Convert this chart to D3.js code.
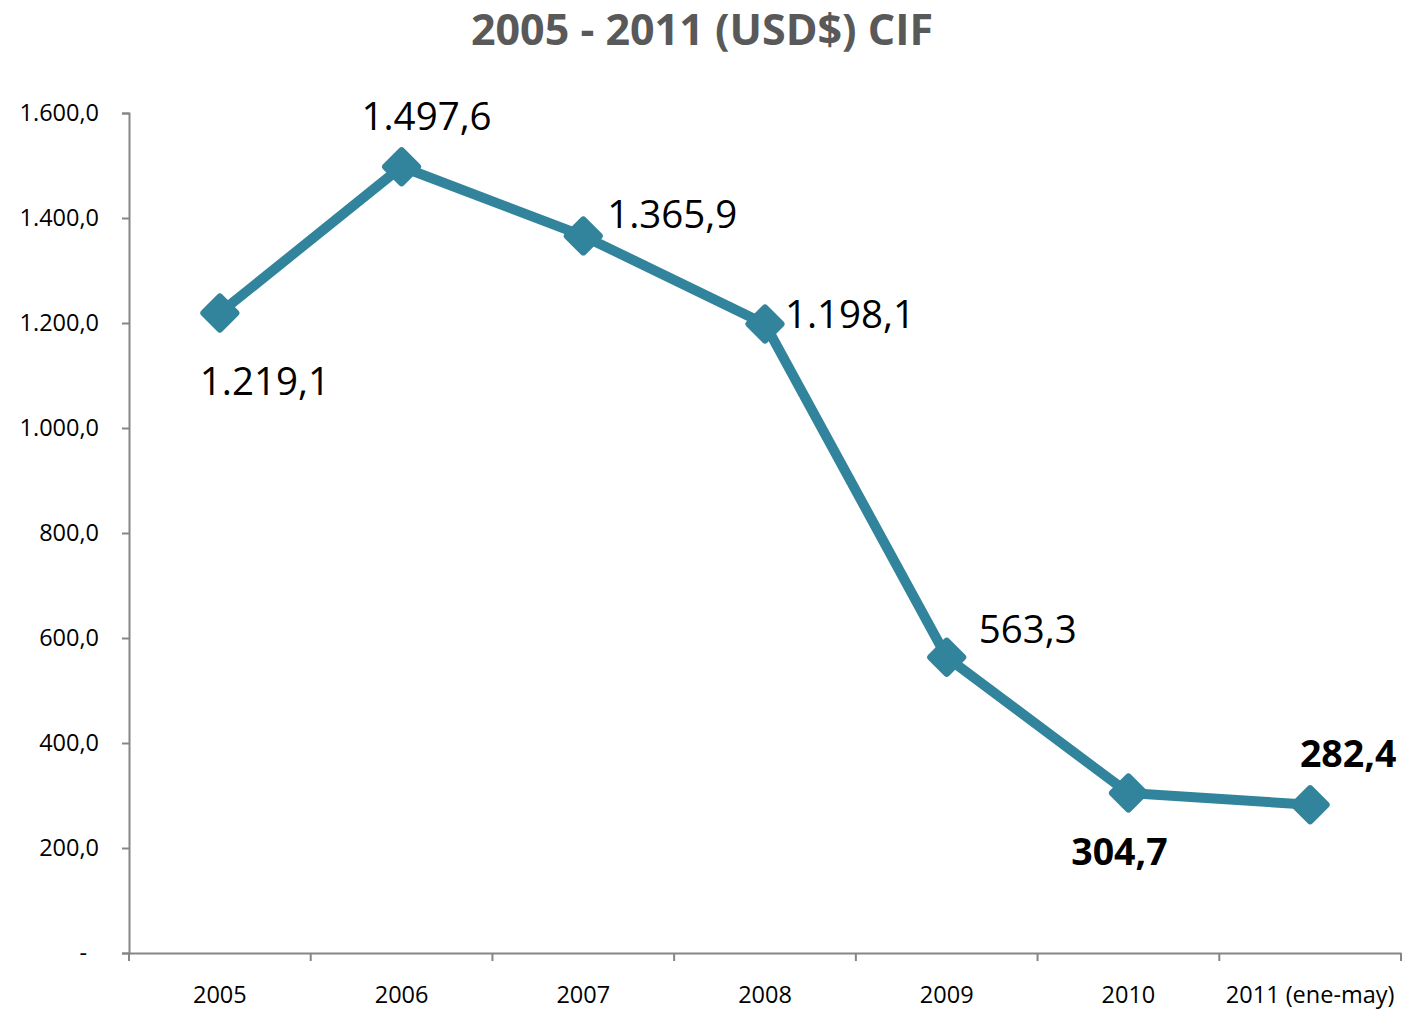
<html>
<head>
    <meta content="text/html;charset=utf-8" http-equiv="Content-Type"/>
    <style>
        body { margin: 0; background: #fff; }
        text { font-family: "Open Sans", sans-serif; }
    </style>
</head>
<body>
<svg id="chart" width="1423" height="1013"></svg>
<script src="https://d3js.org/d3.v7.min.js"></script>
<script>
    const years = ["2005", "2006", "2007", "2008", "2009", "2010", "2011 (ene-may)"];
    const values = [1219.1, 1497.6, 1365.9, 1198.1, 563.3, 304.7, 282.4];
    const yTicks = [0, 200, 400, 600, 800, 1000, 1200, 1400, 1600];
    // value label offsets from their point (label centre), and bold flags
    const labelDx = [45, 25, 89, 85, 81, -9, 38];
    const labelDy = [82, -37, -8, 4, -14, 72, -38];
    const labelBold = [false, false, false, false, false, true, true];

    const svg = d3.select('#chart');
    const color = "#31849B";
    const axisColor = "#868686";

    const x = d3.scaleBand().domain(years).range([129, 1401]);
    const y = d3.scaleLinear().domain([0, 1600]).range([953, 113]);

    const fmt = (v) => {
        if (v === 0) return "-";
        const s = v.toFixed(1).split(".");
        return s[0].replace(/\B(?=(\d{3})+(?!\d))/g, ".") + "," + s[1];
    };

    svg.append('text')
        .attr('x', 702).attr('y', 45)
        .attr('text-anchor', 'middle')
        .attr('font-size', 43).attr('font-weight', 'bold')
        .attr('fill', '#595959')
        .text("2005 - 2011 (USD$) CIF");

    // y axis
    const yAxis = svg.append('g')
        .attr('transform', 'translate(129,0)')
        .call(d3.axisLeft(y).tickValues(yTicks).tickSize(7).tickPadding(23).tickFormat(fmt));
    yAxis.selectAll('text').attr('font-size', 23.5).attr('fill', '#000')
        .style('font-family', '"Open Sans", sans-serif')
        .attr('dx', d => d === 0 ? -12 : 0);

    // x axis
    const xAxis = svg.append('g')
        .attr('transform', 'translate(0,953)')
        .call(d3.axisBottom(x).tickSize(0).tickPadding(33));
    xAxis.selectAll('text').attr('font-size', 23.5).attr('fill', '#000')
        .style('font-family', '"Open Sans", sans-serif');
    // category boundary ticks
    const bounds = years.map(d => x(d)).concat([x.range()[1]]);
    xAxis.selectAll('line.bound')
        .data(bounds)
        .enter().append('line')
        .attr('class', 'bound')
        .attr('x1', d => d).attr('x2', d => d)
        .attr('y1', 0).attr('y2', 8)
        .attr('stroke', axisColor).attr('stroke-width', 2);

    svg.selectAll('.domain').attr('stroke', axisColor).attr('stroke-width', 2);
    yAxis.selectAll('.tick line').attr('stroke', axisColor).attr('stroke-width', 2);

    const pts = years.map((d, i) => ({
        cx: x(d) + x.bandwidth() / 2,
        cy: y(values[i]),
        v: values[i],
        dx: labelDx[i],
        dy: labelDy[i],
        bold: labelBold[i]
    }));

    svg.append('path')
        .datum(pts)
        .attr('fill', 'none')
        .attr('stroke', color)
        .attr('stroke-width', 10)
        .attr('stroke-linejoin', 'round')
        .attr('d', d3.line().x(d => d.cx).y(d => d.cy));

    svg.selectAll('path.marker')
        .data(pts)
        .enter().append('path')
        .attr('class', 'marker')
        .attr('transform', d => `translate(${d.cx},${d.cy})`)
        .attr('d', 'M0,-16L16,0L0,16L-16,0Z')
        .attr('fill', color)
        .attr('stroke', color)
        .attr('stroke-width', 7)
        .attr('stroke-linejoin', 'round');

    svg.selectAll('text.val')
        .data(pts)
        .enter().append('text')
        .attr('class', 'val')
        .attr('font-size', d => d.bold ? 37.5 : 38.5)
        .attr('font-weight', d => d.bold ? 'bold' : 'normal')
        .attr('fill', '#000')
        .attr('text-anchor', 'middle')
        .attr('x', d => d.cx + d.dx)
        .attr('y', d => d.cy + d.dy)
        .text(d => fmt(d.v));
</script>
</body>
</html>
